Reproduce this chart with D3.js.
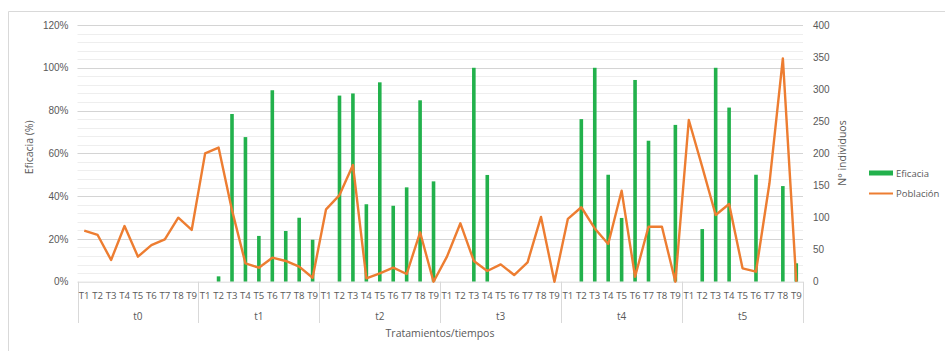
<!DOCTYPE html>
<html>
<head>
<meta charset="utf-8">
<script src="https://cdn.jsdelivr.net/npm/d3@7"></script>
<style>
  body { margin: 0; background: #fff; }
  svg { display: block; font-family: "Open Sans", "Liberation Sans", sans-serif; }
</style>
</head>
<body>
<svg id="chart" width="945" height="351"></svg>
<script>
const groups = ["t0", "t1", "t2", "t3", "t4", "t5"];
const treatments = ["T1", "T2", "T3", "T4", "T5", "T6", "T7", "T8", "T9"];
// Eficacia (%) per group, T1..T9 (null = no bar)
const eficacia = [
  [null, null, null, null, null, null, null, null, null],
  [null, 2.5, 78.4, 67.6, 21.4, 89.5, 23.7, 29.9, 19.6],
  [null, 87, 88, 36.2, 93.2, 35.5, 44.1, 84.8, 46.9],
  [null, null, 100, 49.9, null, null, null, null, null],
  [null, 76, 100, 50, 29.8, 94.3, 65.9, null, 73.3],
  [null, 24.6, 100, 81.4, null, 50, null, 44.7, 8.6]
];
// Población (Nº individuos) per group, T1..T9
const poblacion = [
  [79.5, 72.8, 33.8, 86.8, 39, 57, 66, 99.7, 80.6],
  [200, 209, 111.5, 28.6, 21.8, 37.4, 32.3, 23.4, 6.2],
  [112.8, 135, 182, 5.3, 13, 21.8, 12, 77, 0],
  [39, 91, 32.3, 16.7, 27, 10.4, 30.2, 101, 0],
  [98, 116, 83, 58.8, 141.8, 7.8, 85.7, 85.7, 0],
  [252, 179, 104, 121, 20.8, 15.6, 153, 348, 0]
];
const leftTicks = [0, 20, 40, 60, 80, 100, 120];
const rightTicks = [0, 50, 100, 150, 200, 250, 300, 350, 400];

(function () {
const svg = d3.select("#chart");
const pLeft = 77.5, pRight = 803, pTop = 25, pBottom = 281.7;
const textColor = "#595959";

// outer border
svg.append("path").attr("d", "M8.5,351 L8.5,11.5 L945,11.5")
  .attr("fill", "none").attr("stroke", "#d9d9d9").attr("stroke-width", 1);

const cats = [];
groups.forEach((g, gi) => treatments.forEach((t, ti) => cats.push({g, gi, t, ti, key: g + "_" + t,
  ef: eficacia[gi][ti], po: poblacion[gi][ti]})));

const x = d3.scaleBand().domain(cats.map(d => d.key)).range([pLeft, pRight]).paddingInner(0).paddingOuter(0);
const yL = d3.scaleLinear().domain([0, 120]).range([pBottom, pTop]);
const yR = d3.scaleLinear().domain([0, 400]).range([pBottom, pTop]);

// minor grid (every 4%)
const minor = d3.range(4, 120, 4).filter(v => v % 20 !== 0);
svg.append("g").selectAll("line").data(minor).join("line")
  .attr("x1", pLeft).attr("x2", pRight)
  .attr("y1", d => Math.round(yL(d)) + 0.5).attr("y2", d => Math.round(yL(d)) + 0.5)
  .attr("stroke", "#eeeeee").attr("stroke-width", 1);
// major grid
svg.append("g").selectAll("line").data(leftTicks.filter(v => v > 0)).join("line")
  .attr("x1", pLeft).attr("x2", pRight)
  .attr("y1", d => Math.round(yL(d)) + 0.5).attr("y2", d => Math.round(yL(d)) + 0.5)
  .attr("stroke", "#d4d4d4").attr("stroke-width", 1.2);

// left axis
const axL = svg.append("g").attr("transform", `translate(${pLeft},0)`)
  .call(d3.axisLeft(yL).tickValues(leftTicks).tickFormat(d => d + "%").tickSize(0).tickPadding(9));
axL.select(".domain").remove();
axL.selectAll("text").attr("fill", textColor).style("font-size", "10px");

// right axis
const axR = svg.append("g").attr("transform", `translate(${pRight},0)`)
  .call(d3.axisRight(yR).tickValues(rightTicks).tickSize(0).tickPadding(10));
axR.select(".domain").remove();
axR.selectAll("text").attr("fill", textColor).style("font-size", "10px");

// bars
const bw = 3.6;
svg.append("g").selectAll("rect").data(cats.filter(d => d.ef !== null)).join("rect")
  .attr("x", d => x(d.key) + x.bandwidth() / 2 - bw / 2)
  .attr("width", bw)
  .attr("y", d => yL(d.ef))
  .attr("height", d => pBottom - yL(d.ef))
  .attr("fill", "#22b14c");

// bottom category axis frame
svg.append("line").attr("x1", pLeft).attr("x2", pRight).attr("y1", pBottom + 0.5).attr("y2", pBottom + 0.5)
  .attr("stroke", "#d9d9d9");
const bounds = d3.range(0, groups.length + 1).map(i => i === groups.length ? pRight : x(cats[i * 9].key));
svg.append("g").selectAll("line").data(bounds).join("line")
  .attr("x1", d => Math.round(d) + 0.5).attr("x2", d => Math.round(d) + 0.5)
  .attr("y1", pBottom).attr("y2", 323)
  .attr("stroke", "#d9d9d9");

// treatment labels
svg.append("g").selectAll("text").data(cats).join("text")
  .attr("x", d => x(d.key) + x.bandwidth() / 2)
  .attr("y", 299)
  .attr("text-anchor", "middle")
  .attr("fill", textColor).style("font-size", "9.6px")
  .text(d => d.t);
// group labels
svg.append("g").selectAll("text").data(groups).join("text")
  .attr("x", (d, i) => (bounds[i] + bounds[i + 1]) / 2)
  .attr("y", 320)
  .attr("text-anchor", "middle")
  .attr("fill", textColor).style("font-size", "10px")
  .text(d => d);

// line
const line = d3.line().x(d => x(d.key) + x.bandwidth() / 2).y(d => yR(d.po));
svg.append("path").datum(cats).attr("d", line)
  .attr("fill", "none").attr("stroke", "#ed7d31").attr("stroke-width", 2.4)
  .attr("stroke-linejoin", "round");

// axis titles
svg.append("text").attr("x", 440).attr("y", 337).attr("text-anchor", "middle")
  .attr("fill", textColor).style("font-size", "10.5px").text("Tratamientos/tiempos");
svg.append("text").attr("transform", `translate(33,${(pTop + pBottom) / 2 - 6}) rotate(-90)`)
  .attr("text-anchor", "middle").attr("fill", textColor).style("font-size", "10.5px").text("Eficacia (%)");
svg.append("text").attr("transform", `translate(846,153) rotate(-90)`)
  .attr("text-anchor", "middle").attr("fill", textColor).style("font-size", "10.5px").text("N° individuos");

// legend
const lg = svg.append("g");
lg.append("rect").attr("x", 869).attr("y", 170.5).attr("width", 24).attr("height", 5).attr("fill", "#22b14c");
lg.append("text").attr("x", 896).attr("y", 177).attr("fill", textColor).style("font-size", "9.5px").text("Eficacia");
lg.append("line").attr("x1", 869).attr("x2", 893).attr("y1", 193.5).attr("y2", 193.5)
  .attr("stroke", "#ed7d31").attr("stroke-width", 2);
lg.append("text").attr("x", 896).attr("y", 197).attr("fill", textColor).style("font-size", "9.5px").text("Población");
})();
</script>
</body>
</html>
